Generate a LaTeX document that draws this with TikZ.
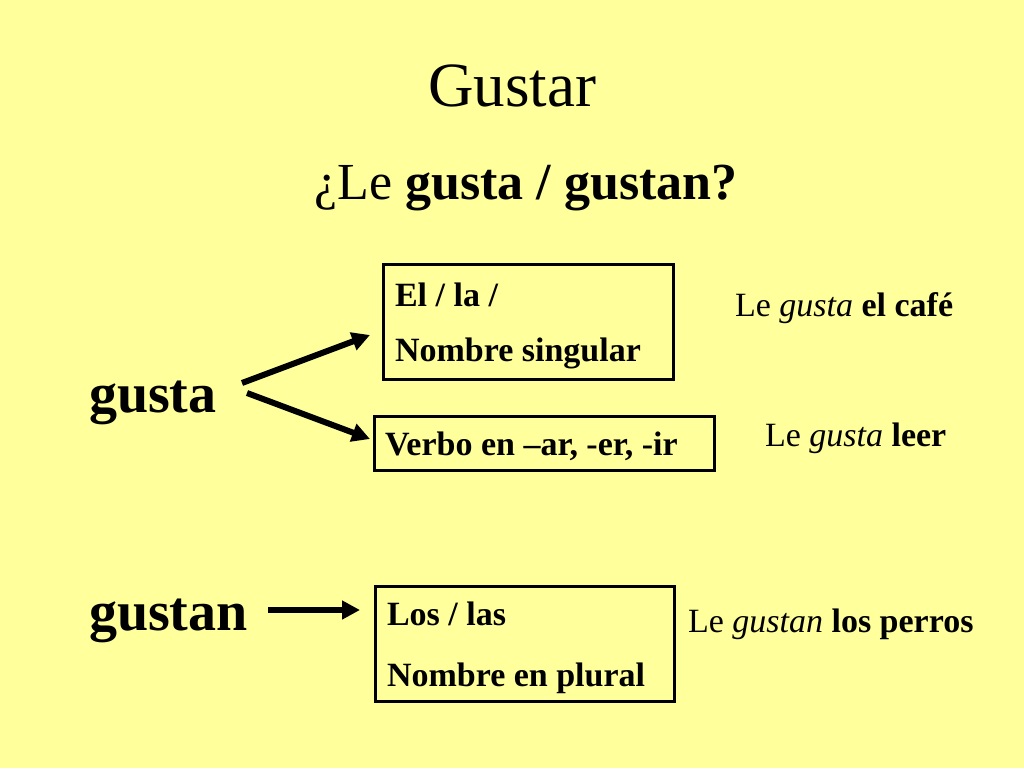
\documentclass[tikz,border=0pt]{standalone}
\usepackage{fontspec}
\setmainfont{Liberation Serif}
\usetikzlibrary{arrows.meta}
\definecolor{bg}{HTML}{FFFF9C}
\tikzset{
  txt/.style={inner sep=0pt, outer sep=0pt},
  small/.style={txt, anchor=base west, font=\fontsize{34}{40}\selectfont\bfseries},
  example/.style={txt, anchor=base west, font=\fontsize{34}{40}\selectfont},
  boxframe/.style={draw=black, line width=3pt, rectangle, inner sep=0pt, outer sep=0pt, anchor=north west},
  arr/.style={line width=6pt, -{Triangle[length=18pt,width=18pt]}},
}
\begin{document}
\begin{tikzpicture}[x=1pt,y=-1pt]
\fill[bg] (0,0) rectangle (1024,768);
\useasboundingbox (0,0) rectangle (1024,768);
% titles
\node[txt, anchor=base, font=\fontsize{63}{70}\selectfont] (title) at (512,106) {Gustar};
\node[txt, anchor=base, font=\fontsize{52}{60}\selectfont] (q) at (526,199) {¿Le \textbf{gusta / gustan?}};
% left words
\node[txt, anchor=base west, font=\fontsize{56}{60}\selectfont\bfseries] (gusta) at (89,412) {gusta};
\node[txt, anchor=base west, font=\fontsize{56}{60}\selectfont\bfseries] (gustan) at (89,630) {gustan};
% boxes
\node[boxframe, minimum width=290pt, minimum height=115pt] (b1) at (383,264) {};
\node[small] (b1a) at (395,306) {El / la /};
\node[small] (b1b) at (395,361) {Nombre singular};
\node[boxframe, minimum width=340pt, minimum height=54pt] (b2) at (374,416) {};
\node[small] (b2t) at (385,455) {Verbo en –ar, -er, -ir};
\node[boxframe, minimum width=299pt, minimum height=115pt] (b3) at (375,586) {};
\node[small] (b3a) at (387,625) {Los / las};
\node[small] (b3b) at (387,686) {Nombre en plural};
% examples
\node[example] (e1) at (735,316) {Le \textit{gusta} \textbf{el café}};
\node[example] (e2) at (765,446) {Le \textit{gusta} \textbf{leer}};
\node[example] (e3) at (688,632) {Le \textit{gustan} \textbf{los perros}};
% arrows
\coordinate (a1s) at (242,383);
\coordinate (a1e) at (370,335);
\coordinate (a2s) at (247,393);
\coordinate (a2e) at (370,439);
\coordinate (a3s) at (268,610);
\coordinate (a3e) at (360,610);
\draw[arr] (a1s) -- (a1e);
\draw[arr] (a2s) -- (a2e);
\draw[arr] (a3s) -- (a3e);
\end{tikzpicture}
\end{document}
